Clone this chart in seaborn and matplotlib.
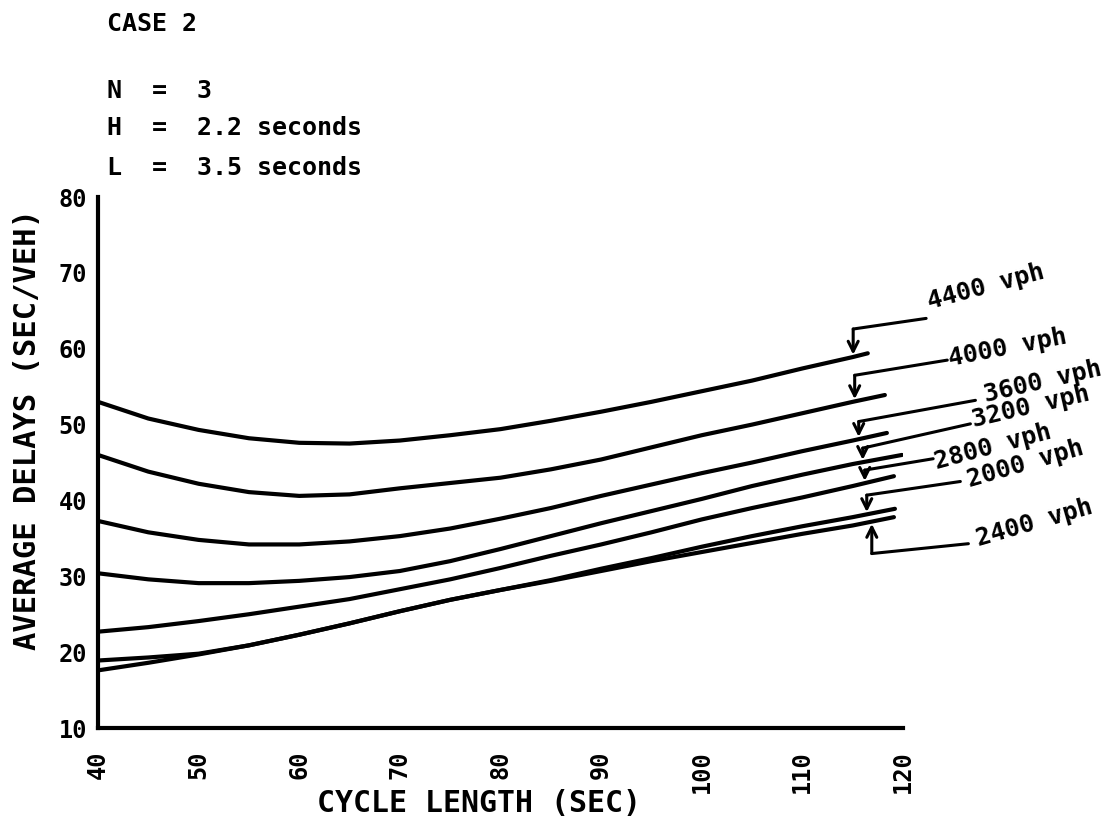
import matplotlib
matplotlib.use('Agg')
import matplotlib.pyplot as plt
import numpy as np
import pandas as pd
import seaborn as sns

# ── data ─────────────────────────────────────────────────────────────────
volumes = ['4400', '4000', '3600', '3200', '2800', '2000', '2400']
cycle_grid = [40, 45, 50, 55, 60, 65, 70, 75, 80, 85, 90, 95, 100, 105, 110, 115]
end_cycle = [116.5, 118.2, 118.4, 119.9, 119.1, 119.2, 119.1]

delay_4400 = [53.0, 50.8, 49.3, 48.2, 47.6, 47.5, 47.9, 48.6, 49.4, 50.5, 51.7, 53.0, 54.4, 55.8, 57.4, 58.9, 59.4]
delay_4000 = [46.0, 43.8, 42.2, 41.1, 40.6, 40.8, 41.6, 42.3, 43.0, 44.1, 45.4, 47.0, 48.6, 50.0, 51.5, 53.0, 53.9]
delay_3600 = [37.3, 35.8, 34.8, 34.2, 34.2, 34.6, 35.3, 36.3, 37.6, 39.0, 40.6, 42.1, 43.6, 45.0, 46.5, 47.9, 48.9]
delay_3200 = [30.4, 29.6, 29.1, 29.1, 29.4, 29.9, 30.7, 32.0, 33.6, 35.3, 37.0, 38.6, 40.2, 41.9, 43.4, 44.8, 46.0]
delay_2800 = [22.7, 23.3, 24.1, 25.0, 26.0, 27.0, 28.3, 29.6, 31.1, 32.7, 34.2, 35.8, 37.5, 39.0, 40.4, 41.9, 43.2]
delay_2000 = [17.6, 18.6, 19.7, 20.9, 22.3, 23.8, 25.4, 26.9, 28.2, 29.5, 31.0, 32.4, 33.9, 35.3, 36.6, 37.8, 38.9]
delay_2400 = [18.9, 19.3, 19.8, 20.9, 22.3, 23.8, 25.4, 26.9, 28.2, 29.4, 30.7, 32.0, 33.2, 34.4, 35.6, 36.7, 37.8]
delays = [delay_4400, delay_4000, delay_3600, delay_3200, delay_2800, delay_2000, delay_2400]

# leader lines for the labels (cycle, delay)
tip_cycle = [115.05, 115.2, 115.6, 116.0, 116.2, 116.4, 116.9]
corner_delay = [62.6, 56.5, 50.4, 46.9, 44.0, 40.7, 33.0]
lead_start = [(122.3, 64.0), (124.4, 58.5), (127.2, 53.2), (126.7, 50.1),
              (123.0, 45.5), (125.7, 42.5), (126.5, 34.3)]
label_pos = [(128.2, 68.2), (130.4, 60.1), (133.9, 55.6), (132.7, 52.3),
             (128.9, 47.0), (132.2, 44.8), (133.1, 37.1)]
label_rot = [15, 11, 13, 13, 15, 16, 16]

rows = []
for vol, vals, end in zip(volumes, delays, end_cycle):
    for c, d in zip(cycle_grid + [end], vals):
        rows.append({'cycle': c, 'delay': d, 'volume': vol})
df = pd.DataFrame(rows)

sns.set_style('white')
plt.rcParams['font.family'] = ['DejaVu Sans Mono', 'DejaVu Sans']
plt.rcParams['font.weight'] = 'bold'
plt.rcParams['text.color'] = 'black'
plt.rcParams['axes.labelcolor'] = 'black'
plt.rcParams['axes.labelweight'] = 'bold'

fig = plt.figure(figsize=(11.1, 8.23), dpi=100)
ax = fig.add_axes([0.0883, 0.1154, 0.7252, 0.6452])

sns.lineplot(data=df, x='cycle', y='delay', hue='volume', estimator=None, sort=False,
             palette={v: 'black' for v in volumes}, linewidth=3.0, legend=False, ax=ax)

ax.set_xlim(40, 120)
ax.set_ylim(10, 80)
ax.set_xticks(range(40, 121, 10))
ax.set_yticks(range(10, 81, 10))
sns.despine(ax=ax)
for side in ['left', 'bottom']:
    ax.spines[side].set_linewidth(3)
    ax.spines[side].set_color('black')
ax.tick_params(axis='x', direction='out', length=14, width=2.5, labelsize=17,
               labelrotation=90, pad=2, colors='black')
ax.tick_params(axis='y', direction='out', length=7, width=2.5, labelsize=17,
               pad=1, colors='black')

ax.set_xlabel('CYCLE LENGTH (SEC)', fontsize=21.5)
ax.set_ylabel('AVERAGE DELAYS (SEC/VEH)', fontsize=22)
ax.xaxis.set_label_coords(0.473, -0.115)
ax.yaxis.set_label_coords(-0.069, 0.563)

# labels with leader arrows
for i, vol in enumerate(volumes):
    c = cycle_grid + [end_cycle[i]]
    on_line = np.interp(tip_cycle[i], c, delays[i])
    up = corner_delay[i] < on_line
    tip = on_line - 0.3 if up else on_line + 0.3
    sx, sy = lead_start[i]
    ax.plot([sx, tip_cycle[i]], [sy, corner_delay[i]], color='black', lw=2.2,
            clip_on=False, solid_capstyle='round')
    ax.annotate('', xy=(tip_cycle[i], tip), xytext=(tip_cycle[i], corner_delay[i]),
                arrowprops=dict(arrowstyle='->', lw=2.2, color='black',
                                mutation_scale=18, shrinkA=0, shrinkB=0),
                annotation_clip=False)
    lx, ly = label_pos[i]
    ax.text(lx, ly, f'{vol} vph', fontsize=18, rotation=label_rot[i],
            ha='center', va='center', rotation_mode='anchor', clip_on=False)

# case header
fig.text(107 / 1110, 1 - 24 / 823, 'CASE 2', fontsize=18, va='center', ha='left')
fig.text(107 / 1110, 1 - 91 / 823, 'N  =  3', fontsize=18, va='center', ha='left')
fig.text(107 / 1110, 1 - 128 / 823, 'H  =  2.2 seconds', fontsize=18, va='center', ha='left')
fig.text(107 / 1110, 1 - 168 / 823, 'L  =  3.5 seconds', fontsize=18, va='center', ha='left')

plt.savefig('out.png', dpi=100)
plt.close(fig)
